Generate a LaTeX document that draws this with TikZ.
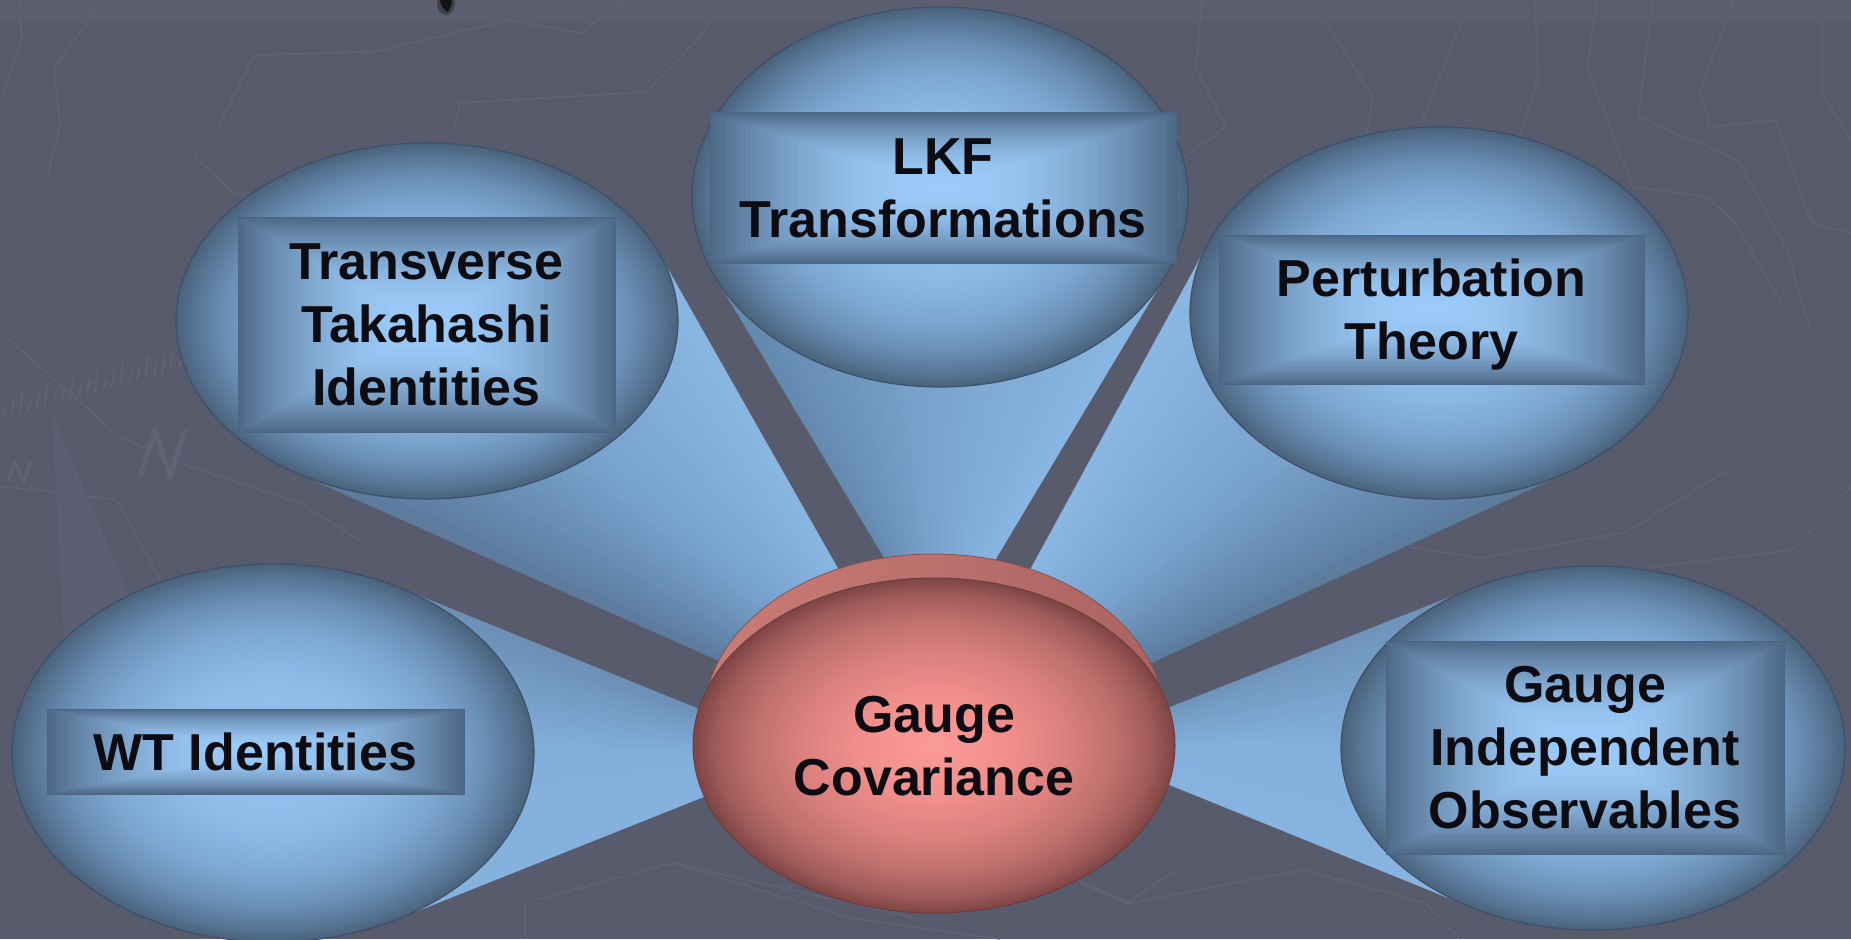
\documentclass[tikz,border=0pt]{standalone}
\usepackage{fontspec}
\setmainfont{Liberation Sans}
\usetikzlibrary{shapes.geometric,calc}

% ---------- palette ----------
\definecolor{slate}{HTML}{585B6C}
\definecolor{slatetop}{HTML}{5B5E6F}
\definecolor{slateline}{HTML}{606376}
\definecolor{slatemark}{HTML}{5C5F71}
\definecolor{ink}{HTML}{0C0C12}
\definecolor{ballrim}{HTML}{3E5068}
\definecolor{boxedge}{HTML}{4A6584}
% sphere shading stops
\definecolor{sphA}{HTML}{97C6F4}
\definecolor{sphB}{HTML}{8DBBE8}
\definecolor{sphC}{HTML}{7EA8D3}
\definecolor{sphD}{HTML}{6C91B8}
\definecolor{sphE}{HTML}{587797}
\definecolor{sphF}{HTML}{4A627C}
% label panel: edge and centre colours
\definecolor{bevC}{HTML}{9CCBF9}
\definecolor{bevE}{HTML}{4E6A88}
% red disc
\definecolor{redA}{HTML}{FB9B98}
\definecolor{redB}{HTML}{F08E8B}
\definecolor{redC}{HTML}{DA807D}
\definecolor{redD}{HTML}{BD6F6C}
\definecolor{redE}{HTML}{A05C5A}
\definecolor{redF}{HTML}{7D4545}
\definecolor{rimL}{HTML}{CA7C77}
\definecolor{rimR}{HTML}{AB6461}
\definecolor{rimEdge}{HTML}{8A504D}
\definecolor{discEdge}{HTML}{6E3C3C}
% cone colours: edge A, middle, edge B
\definecolor{cTA}{HTML}{5B7A9C}\definecolor{cTM}{HTML}{78A2CD}\definecolor{cTB}{HTML}{89B6E2}
\definecolor{cLA}{HTML}{6489AF}\definecolor{cLM}{HTML}{7BA5D0}\definecolor{cLB}{HTML}{88B5E1}
\definecolor{cPA}{HTML}{8AB7E3}\definecolor{cPM}{HTML}{79A3CE}\definecolor{cPB}{HTML}{5B7B9D}
\definecolor{cWA}{HTML}{6B8FB6}\definecolor{cWM}{HTML}{82AFDB}\definecolor{cWB}{HTML}{84B1DD}
\definecolor{cGA}{HTML}{6F94BB}\definecolor{cGM}{HTML}{83B0DC}\definecolor{cGB}{HTML}{86B3DF}

% ---------- shadings ----------
\pgfdeclareradialshading{bluesphere}{\pgfpoint{0bp}{0bp}}{color(0bp)=(sphA); color(10bp)=(sphB); color(16bp)=(sphC); color(20bp)=(sphD); color(23bp)=(sphE); color(25bp)=(sphF); color(50bp)=(sphF)}
\pgfdeclareradialshading{redface}{\pgfpoint{0bp}{0bp}}{color(0bp)=(redA); color(8bp)=(redB); color(14bp)=(redC); color(19bp)=(redD); color(22.5bp)=(redE); color(25bp)=(redF); color(50bp)=(redF)}

\newcommand\lblfont{\fontsize{52pt}{63pt}\selectfont\bfseries}

% tangent point on an ellipse seen from an outside point
% #1 name, #2 #3 centre, #4 #5 radii, #6 #7 outside point, #8 side (+ or -)
\newcommand\conetangent[8]{%
  \pgfmathsetmacro\cnU{(#6-#2)/#4}%
  \pgfmathsetmacro\cnV{(#7-#3)/#5}%
  \pgfmathsetmacro\cnPhi{atan2(\cnV,\cnU)}%
  \pgfmathsetmacro\cnAl{acos(1/sqrt(\cnU*\cnU+\cnV*\cnV))}%
  \pgfmathsetmacro\cnTh{\cnPhi#8\cnAl}%
  \coordinate (#1) at ({#2+#4*cos(\cnTh)},{#3+#5*sin(\cnTh)});%
}

% converging beam drawn as thin slices shaded from edge A to edge B
% #1 outer A, #2 inner A, #3 inner B, #4 outer B, #5 colour prefix
\newcommand\drawcone[5]{%
  \foreach \k in {0,...,35}{%
    \pgfmathsetmacro\cnLo{\k/36}%
    \pgfmathsetmacro\cnHi{min(1,(\k+1.7)/36)}%
    \pgfmathsetmacro\cnWa{max(0,min(100,200*(\k+0.5)/36))}%
    \pgfmathsetmacro\cnWb{max(0,min(100,200*(\k+0.5)/36-100))}%
    \colorlet{cnmix}{#5M!\cnWa!#5A}%
    \colorlet{cnfill}{#5B!\cnWb!cnmix}%
    \fill[cnfill] ($(#1)!\cnLo!(#4)$) -- ($(#2)!\cnLo!(#3)$) -- ($(#2)!\cnHi!(#3)$) -- ($(#1)!\cnHi!(#4)$) -- cycle;
  }%
}

\tikzset{
  sphere/.style={ellipse, inner sep=0pt, outer sep=0pt, draw=ballrim, line width=1.2pt, shade, shading=bluesphere},
  % label panel: nested proportional rectangles, dark rim to light centre
  labelbox/.style={rectangle, inner sep=0pt, outer sep=0pt, draw=boxedge, line width=1pt,
    text=ink, align=center, font=\lblfont, text depth=0pt,
    path picture={
      \foreach \k in {0,...,44}{
        \pgfmathsetmacro\bvS{1-\k/45}
        \pgfmathsetmacro\bvMix{100*(1-(1-\k/44)^2)}
        \fill[bevC!\bvMix!bevE]
          ($(path picture bounding box.center)!\bvS!(path picture bounding box.north west)$) rectangle
          ($(path picture bounding box.center)!\bvS!(path picture bounding box.south east)$);
      }
    }},
  discrim/.style={ellipse, inner sep=0pt, outer sep=0pt, left color=rimL, right color=rimR, draw=rimEdge, line width=0.8pt},
  disc/.style={ellipse, inner sep=0pt, outer sep=0pt, shade, shading=redface, draw=discEdge, line width=1pt,
    text=ink, align=center, font=\lblfont, text depth=0pt},
  bgline/.style={draw=slateline, line width=1.4pt, line join=round}
}

\begin{document}
\begin{tikzpicture}[x=1pt, y=-1pt]
\useasboundingbox (0,0) rectangle (1851,939);

% ---------- backdrop ----------
\fill[slate] (0,0) rectangle (1851,939);
\fill[slatetop] (0,0) rectangle (1851,22);

% faint map-like lines
\draw[bgline] (20,0) -- (22,40) -- (0,100);
\draw[bgline] (96,10) -- (54,68) -- (60,125) -- (48,175);
\draw[bgline] (219,125) -- (254,55) -- (373,52) -- (509,20) -- (580,33) -- (625,0);
\draw[bgline] (455,125) -- (460,103) -- (647,92) -- (700,37) -- (725,0);
\draw[bgline] (195,157) -- (230,190) -- (290,215);
\draw[bgline] (7,338) -- (120,437) -- (180,463) -- (300,503) -- (360,540);
\draw[bgline] (0,487) -- (40,490) -- (117,500) -- (160,580) -- (170,640);
\draw[bgline] (1202,0) -- (1196,67) -- (1226,127) -- (1185,157);
\draw[bgline] (1326,23) -- (1373,97) -- (1362,160);
\draw[bgline] (1462,20) -- (1421,123);
\draw[bgline] (1535,0) -- (1538,78) -- (1520,133);
\draw[bgline] (1597,0) -- (1587,68) -- (1633,187) -- (1707,197) -- (1733,220) -- (1780,300);
\draw[bgline] (1653,0) -- (1638,117) -- (1738,160) -- (1787,250) -- (1810,330);
\draw[bgline] (1733,0) -- (1700,93) -- (1710,127) -- (1775,120) -- (1812,223) -- (1851,233);
\draw[bgline] (1822,0) -- (1822,93) -- (1851,140);
\draw[bgline] (1727,470) -- (1627,532) -- (1480,558) -- (1409,547);
\draw[bgline] (1851,487) -- (1792,550) -- (1651,567);
\draw[bgline] (672,863) -- (525,903) -- (525,939);
\draw[bgline] (672,863) -- (925,920);
\draw[bgline] (680,865) -- (850,918) -- (1000,939);
\draw[bgline] (1080,883) -- (1127,903) -- (1180,867);
\draw[bgline] (1303,870) -- (1129,903) -- (960,827);
\draw[bgline] (1303,870) -- (1426,903) -- (1460,939);
% compass needle and tick marks
\fill[slatemark] (52,413) -- (66,680) -- (165,680) -- cycle;
\foreach \t in {0,...,22}{
  \draw[slateline, line width=2pt] ($(3,417)!\t/22!(187,367)$) -- ++(3,{-10-6*mod(\t,3)});
}
\draw[bgline, line width=5pt] (140,477) -- (155,430) -- (170,477) -- (185,430);
\draw[bgline, line width=3pt] (8,482) -- (15,462) -- (24,482) -- (31,462);

% dark mark at the top edge
\fill[black, opacity=0.3] (446,3) ellipse [x radius=9, y radius=12];
\fill[black!92] (440,0) -- (452,0) .. controls (452,7) and (449,11) .. (447,12) .. controls (444,9) and (440,5) .. (440,0) -- cycle;

% ---------- converging beams ----------
% Transverse Takahashi Identities
\coordinate (iA1) at (800,697); \coordinate (iB1) at (865,616);
\conetangent{tA1}{427}{321}{251}{178}{800}{697}{+}
\conetangent{tB1}{427}{321}{251}{178}{865}{616}{-}
\drawcone{tA1}{iA1}{iB1}{tB1}{cT}
% LKF Transformations
\coordinate (iA2) at (904,591); \coordinate (iB2) at (970,602);
\conetangent{tA2}{940}{197}{248}{190}{904}{591}{+}
\conetangent{tB2}{940}{197}{248}{190}{970}{602}{-}
\drawcone{tA2}{iA2}{iB2}{tB2}{cL}
% Perturbation Theory
\coordinate (iA3) at (1007,612); \coordinate (iB3) at (1077,697);
\conetangent{tA3}{1439}{313}{249}{186}{1007}{612}{+}
\conetangent{tB3}{1439}{313}{249}{186}{1077}{697}{-}
\drawcone{tA3}{iA3}{iB3}{tB3}{cP}
% WT Identities
\coordinate (iA4) at (776,740); \coordinate (iB4) at (779,767);
\conetangent{tA4}{273}{753}{261}{189}{776}{740}{-}
\conetangent{tB4}{273}{753}{261}{189}{779}{767}{+}
\drawcone{tA4}{iA4}{iB4}{tB4}{cW}
% Gauge Independent Observables
\coordinate (iA5) at (1096,736); \coordinate (iB5) at (1093,754);
\conetangent{tA5}{1593}{748}{252}{182}{1096}{736}{+}
\conetangent{tB5}{1593}{748}{252}{182}{1093}{754}{-}
\drawcone{tA5}{iA5}{iB5}{tB5}{cG}

% ---------- outer spheres with their labels ----------
\node[sphere, minimum width=502pt, minimum height=356pt] (tts-ball) at (427,321) {};
\node[sphere, minimum width=496pt, minimum height=380pt] (lkf-ball) at (940,197) {};
\node[sphere, minimum width=498pt, minimum height=372pt] (pt-ball)  at (1439,313) {};
\node[sphere, minimum width=522pt, minimum height=378pt] (wt-ball)  at (273,753) {};
\node[sphere, minimum width=504pt, minimum height=364pt] (gio-ball) at (1593,748) {};

\node[labelbox, minimum width=377pt, minimum height=215pt] (tts) at (426.5,324.5) {Transverse\\Takahashi\\Identities};
\node[labelbox, minimum width=466pt, minimum height=150pt] (lkf) at (943,188) {LKF\\Transformations};
\node[labelbox, minimum width=425pt, minimum height=149pt] (pt)  at (1431.5,309.5) {Perturbation\\Theory};
\node[labelbox, minimum width=417pt, minimum height=85pt]  (wt)  at (255.5,751.5) {WT Identities};
\node[labelbox, minimum width=398pt, minimum height=213pt] (gio) at (1585,747.5) {Gauge\\Independent\\Observables};

% ---------- central disc ----------
\node[discrim, minimum width=460pt, minimum height=330pt] (gc-rim) at (934,719) {};
\node[disc, minimum width=482pt, minimum height=335pt] (gc) at (934,745.5) {Gauge\\Covariance};
\end{tikzpicture}
\end{document}
